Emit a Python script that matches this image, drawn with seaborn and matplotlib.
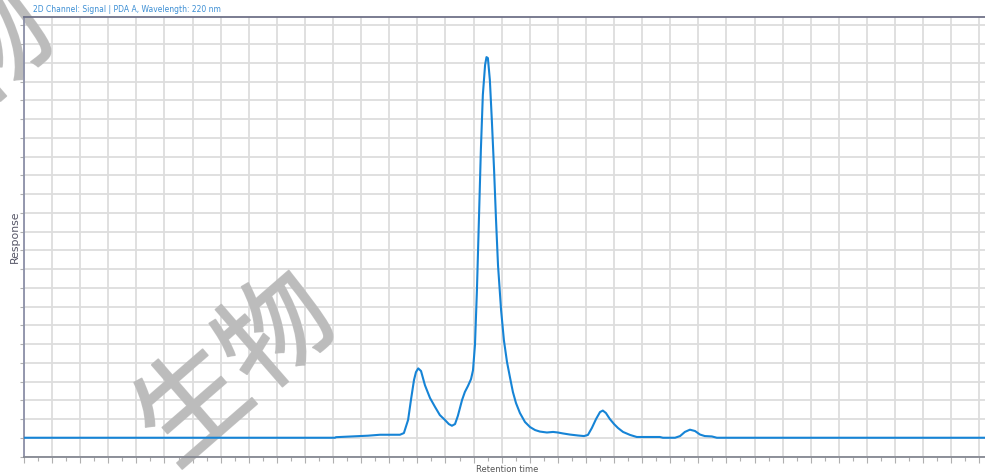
import numpy as np
import pandas as pd
import matplotlib
matplotlib.use("Agg")
import matplotlib.pyplot as plt
import matplotlib.patheffects as pe
from matplotlib.ticker import MultipleLocator
import seaborn as sns

# chromatogram trace (time in min, response in mAU)
retention_time = [
    0.00, 11.07, 11.10, 12.24, 12.67, 13.38, 13.52, 13.67, 13.77, 13.88,
    13.95, 14.03, 14.13, 14.27, 14.45, 14.63, 14.80, 14.98, 15.12, 15.23,
    15.34, 15.44, 15.59, 15.69, 15.80, 15.91, 15.98, 16.05, 16.12, 16.19,
    16.26, 16.33, 16.41, 16.46, 16.51, 16.58, 16.65, 16.73, 16.80, 16.87,
    16.98, 17.08, 17.19, 17.30, 17.40, 17.51, 17.65, 17.83, 18.01, 18.19,
    18.36, 18.61, 18.83, 19.00, 19.18, 19.43, 19.72, 19.93, 20.07, 20.21,
    20.36, 20.50, 20.60, 20.71, 20.85, 21.00, 21.14, 21.32, 21.57, 21.81,
    22.10, 22.63, 22.74, 23.17, 23.35, 23.52, 23.70, 23.88, 24.06, 24.23,
    24.48, 24.66, 34.38,
]
response = [
    10.0, 10.0, 10.3, 11.1, 11.6, 11.6, 12.5, 19.5, 30.0, 40.8,
    45.0, 47.0, 45.6, 38.0, 31.2, 26.4, 22.1, 19.5, 17.3, 16.4,
    17.3, 21.6, 30.1, 34.4, 37.6, 41.3, 46.0, 59.5, 88.8, 126.0,
    163.5, 192.8, 208.8, 213.0, 212.5, 200.8, 179.5, 152.8, 126.0, 102.0,
    78.0, 62.0, 50.4, 41.9, 34.4, 28.5, 23.2, 18.4, 15.7, 14.1,
    13.3, 12.8, 13.1, 12.8, 12.3, 11.7, 11.2, 10.9, 11.5, 15.2,
    20.0, 23.7, 24.5, 23.2, 20.0, 17.3, 15.2, 13.1, 11.5, 10.4,
    10.4, 10.4, 10.0, 10.0, 10.9, 13.1, 14.3, 13.6, 11.7, 10.9,
    10.7, 10.0, 10.0,
]

x_max = 34.38
y_max = 234.4

df = pd.DataFrame({"Retention time": retention_time, "Response": response})

sns.set_theme(style="whitegrid")
plt.rcParams["font.family"] = ["DejaVu Sans"]

fig = plt.figure(figsize=(9.85, 4.74), dpi=100)
ax = fig.add_axes([24 / 985, 17.5 / 474, 966 / 985, 439.5 / 474])

sns.lineplot(
    data=df,
    x="Retention time",
    y="Response",
    color="#1684d6",
    linewidth=1.5,
    ax=ax,
    zorder=3
)

ax.set_xlim(0, x_max)
ax.set_ylim(0, y_max)

ax.xaxis.set_major_locator(MultipleLocator(1))
ax.xaxis.set_minor_locator(MultipleLocator(0.5))
ax.yaxis.set_major_locator(MultipleLocator(10))

ax.grid(True, which="major", color="#dddddd", linewidth=1.3)
ax.grid(False, which="minor")
ax.set_axisbelow(True)

ax.tick_params(axis="x", which="major", direction="out", length=4,
               width=0.8, color="#b0b0b0", labelbottom=False, bottom=True)
ax.tick_params(axis="x", which="minor", direction="out", length=3,
               width=0.8, color="#b0b0b0", bottom=True)
ax.tick_params(axis="y", which="major", direction="out", length=3,
               width=0.8, color="#b0b0b0", labelleft=False, left=True)

for side in ["left", "bottom", "top"]:
    ax.spines[side].set_visible(True)
    ax.spines[side].set_linewidth(1.3)
ax.spines["left"].set_color("#8c90a8")
ax.spines["bottom"].set_color("#858892")
ax.spines["top"].set_color("#6f7288")
ax.spines["right"].set_visible(False)

ax.set_xlabel("Retention time", fontsize=6, color="#555555",
              family="Liberation Sans Narrow")
ax.xaxis.set_label_coords(0.5, -12.5 / 439.5)
ax.xaxis.label.set_va("center")

ax.set_ylabel("Response", fontsize=7.8, color="#555566")
ax.yaxis.set_label_coords(-9 / 966, 0.5)
ax.yaxis.label.set_va("center")
ax.yaxis.label.set_ha("center")

# header text, mostly lost in the export
fig.text(33 / 985, 1 - 11.5 / 474,
         "2D Channel: Signal | PDA A, Wavelength: 220 nm",
         fontsize=5.5, color="#3d8fd4", va="baseline", ha="left")

# watermark
wm_color = "#bcbcbc"
wm = dict(family=["Noto Sans CJK SC", "DejaVu Sans"], fontsize=80,
          fontweight="normal", color=wm_color, alpha=0.9, rotation=41,
          ha="center", va="center", rotation_mode="anchor",
          transform=fig.transFigure, clip_on=False, zorder=2,
          path_effects=[pe.withStroke(linewidth=1.2, foreground=wm_color)])
ax.text(237 / 985, 1 - 372 / 474, "生物", **wm)
ax.text(-3 / 985, 1 - 50 / 474, "物", **wm)

fig.savefig("out.png", dpi=100)
